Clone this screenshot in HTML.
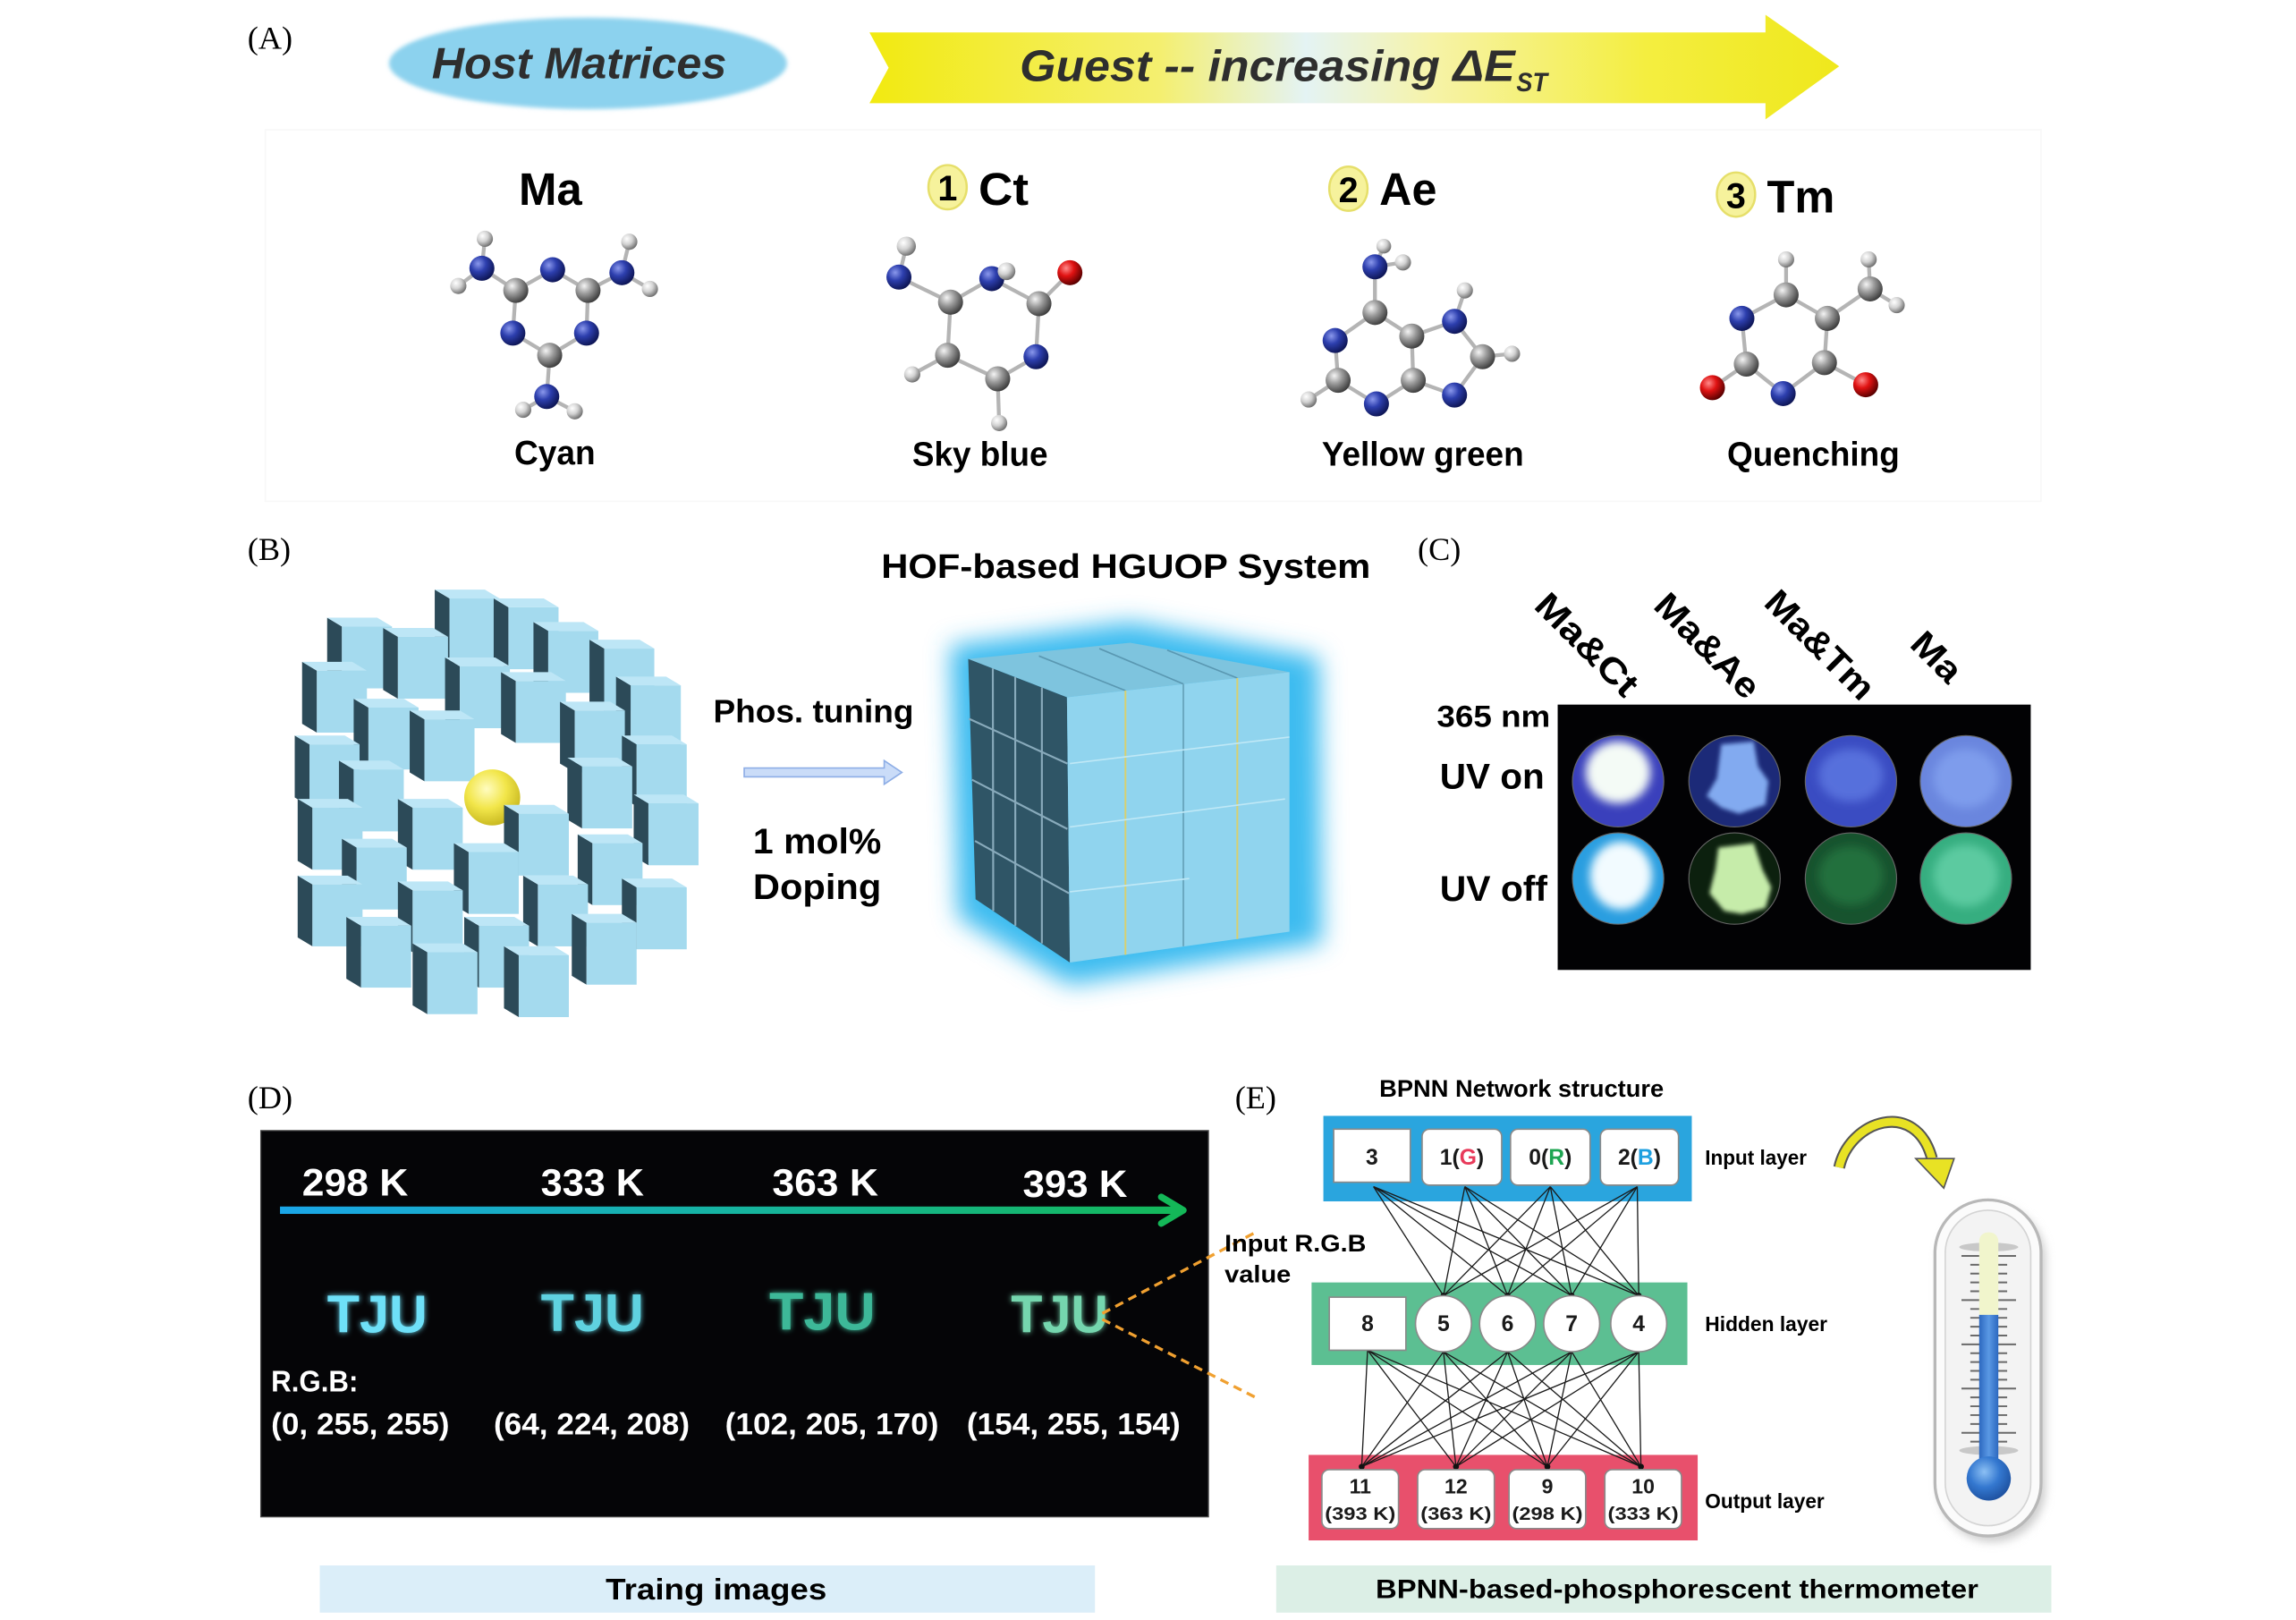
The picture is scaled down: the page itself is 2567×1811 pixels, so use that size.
<!DOCTYPE html>
<html><head><meta charset="utf-8"><style>
html,body{margin:0;padding:0;background:#fff;}
svg{display:block;}
text{font-family:"Liberation Sans",Arial,sans-serif;font-weight:bold;}
.ser{font-family:"Liberation Serif","Times New Roman",serif;font-weight:normal;}
</style></head><body>
<svg width="2567" height="1811" viewBox="0 0 1558 1099" preserveAspectRatio="none" xmlns="http://www.w3.org/2000/svg">
<defs>
<linearGradient id="yarrow" x1="0" y1="0" x2="1" y2="0">
<stop offset="0" stop-color="#f2ea10"/><stop offset="0.3" stop-color="#f4ef70"/><stop offset="0.45" stop-color="#e4f3f4"/><stop offset="0.58" stop-color="#f6f3a8"/><stop offset="0.8" stop-color="#f4ee40"/><stop offset="1" stop-color="#efe81c"/>
</linearGradient>
<radialGradient id="gN" cx="35%" cy="32%" r="70%"><stop offset="0" stop-color="#8a98ec"/><stop offset="0.45" stop-color="#2d3fae"/><stop offset="1" stop-color="#0e1656"/></radialGradient>
<radialGradient id="gC" cx="35%" cy="32%" r="70%"><stop offset="0" stop-color="#f4f4f4"/><stop offset="0.45" stop-color="#9c9c9c"/><stop offset="1" stop-color="#3e3e3e"/></radialGradient>
<radialGradient id="gH" cx="35%" cy="32%" r="70%"><stop offset="0" stop-color="#ffffff"/><stop offset="0.5" stop-color="#d2d2d2"/><stop offset="1" stop-color="#707070"/></radialGradient>
<radialGradient id="gO" cx="35%" cy="32%" r="70%"><stop offset="0" stop-color="#ff8a8a"/><stop offset="0.45" stop-color="#e01212"/><stop offset="1" stop-color="#5a0000"/></radialGradient>
<radialGradient id="gY" cx="40%" cy="35%" r="70%"><stop offset="0" stop-color="#fffcc0"/><stop offset="0.5" stop-color="#f2e64a"/><stop offset="1" stop-color="#c4b41c"/></radialGradient>
<linearGradient id="tarrow" gradientUnits="userSpaceOnUse" x1="190" y1="0" x2="805" y2="0"><stop offset="0" stop-color="#1aa6e8"/><stop offset="0.5" stop-color="#16b4a0"/><stop offset="1" stop-color="#14b858"/></linearGradient>
<radialGradient id="bulb" cx="40%" cy="35%" r="70%"><stop offset="0" stop-color="#8cc0f4"/><stop offset="0.5" stop-color="#3478d0"/><stop offset="1" stop-color="#1c4e9c"/></radialGradient>
<linearGradient id="tube" x1="0" y1="0" x2="1" y2="0"><stop offset="0" stop-color="#2c68c0"/><stop offset="0.5" stop-color="#5a98e4"/><stop offset="1" stop-color="#2c68c0"/></linearGradient>
<filter id="b1" x="-20%" y="-20%" width="140%" height="140%"><feGaussianBlur stdDeviation="1.5"/></filter>
<filter id="b2" x="-30%" y="-30%" width="160%" height="160%"><feGaussianBlur stdDeviation="3"/></filter>
<filter id="b8" x="-30%" y="-30%" width="160%" height="160%"><feGaussianBlur stdDeviation="8"/></filter>
<filter id="glow" x="-30%" y="-30%" width="160%" height="160%"><feGaussianBlur stdDeviation="2" result="b"/><feMerge><feMergeNode in="b"/><feMergeNode in="SourceGraphic"/></feMerge></filter>
<g id="blk"><polygon points="-10,-6 0,0 0,42 -10,36" fill="#2c4a58"/><polygon points="-10,-6 24,-6 34,0 0,0" fill="#bde6f6"/><rect x="0" y="0" width="34" height="42" fill="#a4daee"/></g>
</defs>

<!-- ===== Panel A ===== -->
<text class="ser" x="168" y="33" font-size="22">(A)</text>
<ellipse cx="399" cy="43" rx="135" ry="31" fill="#8cd2ee" filter="url(#b1)"/>
<text x="293" y="53" font-size="30" font-style="italic" fill="#2e2e2e" textLength="200" lengthAdjust="spacingAndGlyphs">Host Matrices</text>
<polygon points="590,22 1198,22 1198,10 1248,45 1198,81 1198,70 590,70 603,46" fill="url(#yarrow)"/>
<text x="692" y="55" font-size="30" font-style="italic" fill="#2e2e2e" textLength="336" lengthAdjust="spacingAndGlyphs">Guest -- increasing ΔE</text>
<text x="1029" y="62" font-size="18" font-style="italic" fill="#2e2e2e" textLength="21" lengthAdjust="spacingAndGlyphs">ST</text>
<rect x="180" y="88" width="1205" height="252" fill="none" stroke="#f8f8f8" stroke-width="1"/>

<!-- headings -->
<text x="352" y="139" font-size="31" textLength="43" lengthAdjust="spacingAndGlyphs">Ma</text>
<ellipse cx="643" cy="127" rx="13" ry="15" fill="#f6f29c" stroke="#e6df6a" stroke-width="1.5"/>
<text x="643" y="136" font-size="24" text-anchor="middle">1</text>
<text x="664" y="139" font-size="31" textLength="34" lengthAdjust="spacingAndGlyphs">Ct</text>
<ellipse cx="915" cy="128" rx="13" ry="15" fill="#f6f29c" stroke="#e6df6a" stroke-width="1.5"/>
<text x="915" y="137" font-size="24" text-anchor="middle">2</text>
<text x="936" y="139" font-size="31" textLength="39" lengthAdjust="spacingAndGlyphs">Ae</text>
<ellipse cx="1178" cy="132" rx="13" ry="15" fill="#f6f29c" stroke="#e6df6a" stroke-width="1.5"/>
<text x="1178" y="141" font-size="24" text-anchor="middle">3</text>
<text x="1199" y="144" font-size="31" textLength="46" lengthAdjust="spacingAndGlyphs">Tm</text>

<text x="349" y="315" font-size="23" textLength="55" lengthAdjust="spacingAndGlyphs">Cyan</text>
<text x="619" y="316" font-size="23" textLength="92" lengthAdjust="spacingAndGlyphs">Sky blue</text>
<text x="897" y="316" font-size="23" textLength="137" lengthAdjust="spacingAndGlyphs">Yellow green</text>
<text x="1172" y="316" font-size="23" textLength="117" lengthAdjust="spacingAndGlyphs">Quenching</text>

<!-- molecule bonds -->
<g stroke="#b4b4b4" stroke-width="2.6" fill="none" stroke-linecap="round">
<path d="M350,197 L375,183 L399,197 L398,226 L373,241 L348,226 Z M350,197 L327,182 M327,182 L329,162 M327,182 L311,194 M399,197 L422,185 M422,185 L427,164 M422,185 L441,196 M373,241 L371,269 M371,269 L355,278 M371,269 L390,279"/>
<path d="M610,188 L615,167 M610,188 L645,205 L673,189 L705,206 L726,185 M705,206 L703,242 L677,257 L643,241 L645,205 M677,257 L678,287 M643,241 L619,254"/>
<path d="M933,181 L939,167 M933,181 L952,178 M933,181 L933,212 L906,231 L908,258 L934,274 L959,258 L958,228 L933,212 M908,258 L888,271 M958,228 L987,218 L1006,242 L987,268 L959,258 M987,218 L994,197 M1006,242 L1026,240"/>
<path d="M1212,176 L1212,200 L1182,216 L1185,247 L1210,267 L1238,246 L1240,216 L1212,200 M1240,216 L1269,196 L1268,176 M1269,196 L1287,207 M1185,247 L1162,263 M1238,246 L1266,261"/>
</g>
<g>
<circle cx="329" cy="162" r="5.5" fill="url(#gH)"/><circle cx="311" cy="194" r="5.5" fill="url(#gH)"/>
<circle cx="427" cy="164" r="5.5" fill="url(#gH)"/><circle cx="441" cy="196" r="5.5" fill="url(#gH)"/>
<circle cx="355" cy="278" r="5.5" fill="url(#gH)"/><circle cx="390" cy="279" r="5.5" fill="url(#gH)"/>
<circle cx="327" cy="182" r="8.5" fill="url(#gN)"/><circle cx="422" cy="185" r="8.5" fill="url(#gN)"/><circle cx="371" cy="269" r="8.5" fill="url(#gN)"/>
<circle cx="375" cy="183" r="8.5" fill="url(#gN)"/><circle cx="398" cy="226" r="8.5" fill="url(#gN)"/><circle cx="348" cy="226" r="8.5" fill="url(#gN)"/>
<circle cx="350" cy="197" r="8.5" fill="url(#gC)"/><circle cx="399" cy="197" r="8.5" fill="url(#gC)"/><circle cx="373" cy="241" r="8.5" fill="url(#gC)"/>
<circle cx="615" cy="167" r="6.5" fill="url(#gH)"/><circle cx="678" cy="287" r="5.5" fill="url(#gH)"/><circle cx="619" cy="254" r="5.5" fill="url(#gH)"/>
<circle cx="610" cy="188" r="8.5" fill="url(#gN)"/><circle cx="645" cy="205" r="8.5" fill="url(#gC)"/>
<circle cx="673" cy="189" r="8.5" fill="url(#gN)"/><circle cx="683" cy="184" r="6" fill="url(#gH)"/>
<circle cx="705" cy="206" r="8.5" fill="url(#gC)"/><circle cx="726" cy="185" r="8.5" fill="url(#gO)"/>
<circle cx="703" cy="242" r="8.5" fill="url(#gN)"/><circle cx="677" cy="257" r="8.5" fill="url(#gC)"/><circle cx="643" cy="241" r="8.5" fill="url(#gC)"/>
<circle cx="939" cy="167" r="5" fill="url(#gH)"/><circle cx="952" cy="178" r="5.5" fill="url(#gH)"/>
<circle cx="888" cy="271" r="5.5" fill="url(#gH)"/><circle cx="994" cy="197" r="5.5" fill="url(#gH)"/><circle cx="1026" cy="240" r="5.5" fill="url(#gH)"/>
<circle cx="933" cy="181" r="8.5" fill="url(#gN)"/><circle cx="933" cy="212" r="8.5" fill="url(#gC)"/>
<circle cx="906" cy="231" r="8.5" fill="url(#gN)"/><circle cx="908" cy="258" r="8.5" fill="url(#gC)"/>
<circle cx="934" cy="274" r="8.5" fill="url(#gN)"/><circle cx="959" cy="258" r="8.5" fill="url(#gC)"/>
<circle cx="958" cy="228" r="8.5" fill="url(#gC)"/><circle cx="987" cy="218" r="8.5" fill="url(#gN)"/>
<circle cx="1006" cy="242" r="8.5" fill="url(#gC)"/><circle cx="987" cy="268" r="8.5" fill="url(#gN)"/>
<circle cx="1212" cy="176" r="5.5" fill="url(#gH)"/><circle cx="1268" cy="176" r="5.5" fill="url(#gH)"/><circle cx="1287" cy="207" r="5.5" fill="url(#gH)"/>
<circle cx="1269" cy="196" r="8.5" fill="url(#gC)"/>
<circle cx="1212" cy="200" r="8.5" fill="url(#gC)"/><circle cx="1182" cy="216" r="8.5" fill="url(#gN)"/>
<circle cx="1240" cy="216" r="8.5" fill="url(#gC)"/><circle cx="1185" cy="247" r="8.5" fill="url(#gC)"/>
<circle cx="1162" cy="263" r="8.5" fill="url(#gO)"/><circle cx="1210" cy="267" r="8.5" fill="url(#gN)"/>
<circle cx="1238" cy="246" r="8.5" fill="url(#gC)"/><circle cx="1266" cy="261" r="8.5" fill="url(#gO)"/>
</g>

<!-- ===== Panel B ===== -->
<text class="ser" x="168" y="380" font-size="22">(B)</text>
<text x="598" y="392" font-size="23" textLength="332" lengthAdjust="spacingAndGlyphs">HOF-based HGUOP System</text>
<g>
<use href="#blk" x="305" y="406"/>
<use href="#blk" x="345" y="412"/>
<use href="#blk" x="232" y="425"/>
<use href="#blk" x="270" y="432"/>
<use href="#blk" x="372" y="428"/>
<use href="#blk" x="410" y="440"/>
<use href="#blk" x="215" y="455"/>
<use href="#blk" x="312" y="452"/>
<use href="#blk" x="350" y="462"/>
<use href="#blk" x="428" y="465"/>
<use href="#blk" x="250" y="480"/>
<use href="#blk" x="288" y="488"/>
<use href="#blk" x="390" y="482"/>
<use href="#blk" x="210" y="505"/>
<use href="#blk" x="432" y="505"/>
<use href="#blk" x="240" y="522"/>
<use href="#blk" x="395" y="520"/>
<circle cx="334" cy="541" r="19" fill="url(#gY)"/>
<use href="#blk" x="212" y="548"/>
<use href="#blk" x="280" y="548"/>
<use href="#blk" x="352" y="552"/>
<use href="#blk" x="440" y="545"/>
<use href="#blk" x="242" y="575"/>
<use href="#blk" x="318" y="578"/>
<use href="#blk" x="402" y="572"/>
<use href="#blk" x="212" y="600"/>
<use href="#blk" x="280" y="604"/>
<use href="#blk" x="365" y="600"/>
<use href="#blk" x="432" y="602"/>
<use href="#blk" x="245" y="628"/>
<use href="#blk" x="325" y="628"/>
<use href="#blk" x="398" y="626"/>
<use href="#blk" x="290" y="646"/>
<use href="#blk" x="352" y="648"/>
</g>
<text x="484" y="490" font-size="22" textLength="136" lengthAdjust="spacingAndGlyphs">Phos. tuning</text>
<polygon points="505,521 600,521 600,516 612,524 600,532 600,527 505,527" fill="#cadcf8" stroke="#8eaee6" stroke-width="1"/>
<text x="511" y="579" font-size="24" textLength="87" lengthAdjust="spacingAndGlyphs">1 mol%</text>
<text x="511" y="610" font-size="24" textLength="87" lengthAdjust="spacingAndGlyphs">Doping</text>
<polygon points="645,438 767,422 895,446 897,640 726,668 650,622" fill="#3cbcf0" filter="url(#b8)"/>
<polygon points="657,447 767,436 875,456 724,473" fill="#7ec4de"/>
<polygon points="657,447 724,473 726,653 662,610" fill="#2f5566"/>
<polygon points="724,473 875,456 875,632 726,653" fill="#90d4ee"/>
<g stroke="#5a98b2" stroke-width="1"><path d="M763.7,468.5 L705,445 M803,464 L746,440 M839.6,460 L792,441"/></g>
<g stroke="#88aabb" stroke-width="1.3"><path d="M673.7,453.5 L674,618 M688.9,459.4 L689,628 M707,466.4 L707,640 M657.5,487.6 L724.3,518 M659.6,529 L724.3,562.4 M661.6,570.5 L725.3,606"/></g>
<g stroke-width="1.2"><path d="M763.7,468.5 L763.7,647.7" stroke="#d8d070"/><path d="M803,464 L803,642" stroke="#6aa8c0"/><path d="M839.6,460 L839.6,637" stroke="#d8d070"/></g>
<g stroke="#bfe8f6" stroke-width="1"><path d="M726,518 L875,500 M726,561 L872,542 M726,605 L807,596"/></g>

<!-- ===== Panel C ===== -->
<text class="ser" x="962" y="380" font-size="22">(C)</text>
<text font-size="24" transform="translate(1040,412) rotate(45)" textLength="88" lengthAdjust="spacingAndGlyphs">Ma&amp;Ct</text>
<text font-size="24" transform="translate(1121,412) rotate(45)" textLength="90" lengthAdjust="spacingAndGlyphs">Ma&amp;Ae</text>
<text font-size="24" transform="translate(1196,410) rotate(45)" textLength="94" lengthAdjust="spacingAndGlyphs">Ma&amp;Tm</text>
<text font-size="24" transform="translate(1295,438) rotate(45)" textLength="38" lengthAdjust="spacingAndGlyphs">Ma</text>
<text x="975" y="493" font-size="21" textLength="77" lengthAdjust="spacingAndGlyphs">365 nm</text>
<text x="977" y="535" font-size="24" textLength="71" lengthAdjust="spacingAndGlyphs">UV on</text>
<text x="977" y="611" font-size="24" textLength="73" lengthAdjust="spacingAndGlyphs">UV off</text>
<rect x="1057" y="478" width="321" height="180" fill="#020204"/>
<g stroke="#666" stroke-width="0.7">
<circle cx="1098" cy="530" r="31" fill="#3a40bc"/>
<circle cx="1177" cy="530" r="31" fill="#1c2a78"/>
<circle cx="1256" cy="530" r="31" fill="#3a4cc2"/>
<circle cx="1334" cy="530" r="31" fill="#6a86de"/>
<circle cx="1098" cy="596" r="31" fill="#2a9ee0"/>
<circle cx="1177" cy="596" r="31" fill="#0c200e"/>
<circle cx="1256" cy="596" r="31" fill="#17532e"/>
<circle cx="1334" cy="596" r="31" fill="#36ae80"/>
</g>
<ellipse cx="1098" cy="524" rx="22" ry="21" fill="#f4fbf6" filter="url(#b2)"/>
<path d="M1168,505 L1190,503 L1193,520 L1200,530 L1198,546 L1180,552 L1168,548 L1158,540 L1165,528 Z" fill="#82aaf0" filter="url(#b1)"/>
<ellipse cx="1256" cy="526" rx="22" ry="18" fill="#5670dc" filter="url(#b2)"/>
<ellipse cx="1334" cy="528" rx="22" ry="20" fill="#7e9cec" filter="url(#b2)"/>
<ellipse cx="1100" cy="594" rx="21" ry="23" fill="#f2fbff" filter="url(#b2)"/>
<path d="M1166,575 L1190,572 L1196,590 L1202,602 L1198,616 L1182,620 L1170,618 L1160,606 L1164,590 Z" fill="#c6ecaa" filter="url(#b1)"/>
<ellipse cx="1256" cy="594" rx="22" ry="20" fill="#23703e" filter="url(#b2)"/>
<ellipse cx="1334" cy="594" rx="22" ry="21" fill="#5ccaa0" filter="url(#b2)"/>

<!-- ===== Panel D ===== -->
<text class="ser" x="168" y="752" font-size="22">(D)</text>
<rect x="177" y="767" width="643" height="262" fill="#050507" stroke="#444" stroke-width="0.8"/>
<g fill="#fff">
<text x="205" y="811" font-size="26" textLength="72" lengthAdjust="spacingAndGlyphs">298 K</text>
<text x="367" y="811" font-size="26" textLength="70" lengthAdjust="spacingAndGlyphs">333 K</text>
<text x="524" y="811" font-size="26" textLength="72" lengthAdjust="spacingAndGlyphs">363 K</text>
<text x="694" y="812" font-size="26" textLength="71" lengthAdjust="spacingAndGlyphs">393 K</text>
</g>
<rect x="190" y="818.5" width="612" height="5" fill="url(#tarrow)"/>
<path d="M788,812 L803,821 L788,830" fill="none" stroke="#14b858" stroke-width="4.5" stroke-linecap="round" stroke-linejoin="round"/>
<g filter="url(#glow)">
<text x="222" y="904" font-size="36" fill="#6ee0f8" textLength="68" lengthAdjust="spacingAndGlyphs">TJU</text>
<text x="367" y="903" font-size="36" fill="#5ed2e0" textLength="70" lengthAdjust="spacingAndGlyphs">TJU</text>
<text x="522" y="902" font-size="36" fill="#3cb898" textLength="72" lengthAdjust="spacingAndGlyphs">TJU</text>
<text x="686" y="904" font-size="36" fill="#74d6ae" textLength="66" lengthAdjust="spacingAndGlyphs">TJU</text>
</g>
<g fill="#fff">
<text x="184" y="944" font-size="20" textLength="59" lengthAdjust="spacingAndGlyphs">R.G.B:</text>
<text x="184" y="973" font-size="21" textLength="121" lengthAdjust="spacingAndGlyphs">(0, 255, 255)</text>
<text x="335" y="973" font-size="21" textLength="133" lengthAdjust="spacingAndGlyphs">(64, 224, 208)</text>
<text x="492" y="973" font-size="21" textLength="145" lengthAdjust="spacingAndGlyphs">(102, 205, 170)</text>
<text x="656" y="973" font-size="21" textLength="145" lengthAdjust="spacingAndGlyphs">(154, 255, 154)</text>
</g>
<path d="M748,891 L852,836 M748,895 L852,948" stroke="#f0a030" stroke-width="2" stroke-dasharray="6,4" fill="none"/>
<text x="831" y="849" font-size="16" textLength="96" lengthAdjust="spacingAndGlyphs">Input R.G.B</text>
<text x="831" y="870" font-size="16" textLength="45" lengthAdjust="spacingAndGlyphs">value</text>

<rect x="217" y="1062" width="526" height="32" fill="#dbeef9"/>
<text x="486" y="1085" font-size="20" text-anchor="middle" textLength="150" lengthAdjust="spacingAndGlyphs">Traing images</text>
<rect x="866" y="1062" width="526" height="32" fill="#dcefe6"/>
<text x="1138" y="1084" font-size="18" text-anchor="middle" textLength="409" lengthAdjust="spacingAndGlyphs">BPNN-based-phosphorescent thermometer</text>

<!-- ===== Panel E ===== -->
<text class="ser" x="838" y="752" font-size="22">(E)</text>
<text x="936" y="744" font-size="16" textLength="193" lengthAdjust="spacingAndGlyphs">BPNN Network structure</text>
<rect x="898" y="757" width="250" height="58" fill="#2aa5de"/>
<rect x="890" y="870" width="255" height="56" fill="#5cbf92"/>
<rect x="888" y="987" width="264" height="58" fill="#e8506c"/>
<g stroke="#1a1a1a" stroke-width="0.8" fill="none">
<path d="M932,805 L979.5,879 M932,805 L1023,879 M932,805 L1066.5,879 M932,805 L1112,879
M994,805 L979.5,879 M994,805 L1023,879 M994,805 L1066.5,879 M994,805 L1112,879
M1052,805 L979.5,879 M1052,805 L1023,879 M1052,805 L1066.5,879 M1052,805 L1112,879
M1111,805 L979.5,879 M1111,805 L1023,879 M1111,805 L1066.5,879 M1111,805 L1112,879"/>
<path d="M928,916 L924,995 M928,916 L988,995 M928,916 L1050,995 M928,916 L1113.5,995
M979.5,917 L924,995 M979.5,917 L988,995 M979.5,917 L1050,995 M979.5,917 L1113.5,995
M1023,917 L924,995 M1023,917 L988,995 M1023,917 L1050,995 M1023,917 L1113.5,995
M1066.5,917 L924,995 M1066.5,917 L988,995 M1066.5,917 L1050,995 M1066.5,917 L1113.5,995
M1112,917 L924,995 M1112,917 L988,995 M1112,917 L1050,995 M1112,917 L1113.5,995"/>
</g>
<g fill="#111"><circle cx="979.5" cy="879" r="2"/><circle cx="1023" cy="879" r="2"/><circle cx="1066.5" cy="879" r="2"/><circle cx="1112" cy="879" r="2"/>
<circle cx="924" cy="995" r="2"/><circle cx="988" cy="995" r="2"/><circle cx="1050" cy="995" r="2"/><circle cx="1113.5" cy="995" r="2"/></g>
<g fill="#fff" stroke="#8a8a8a" stroke-width="1">
<rect x="905" y="766" width="52" height="36"/>
<rect x="965" y="766" width="54" height="38" rx="5"/>
<rect x="1025" y="766" width="54" height="38" rx="5"/>
<rect x="1086" y="766" width="53" height="38" rx="5"/>
<rect x="902" y="880" width="52" height="36"/>
<circle cx="979.5" cy="898" r="19"/><circle cx="1023" cy="898" r="19"/><circle cx="1066.5" cy="898" r="19"/><circle cx="1112" cy="898" r="19"/>
<rect x="897" y="997" width="52" height="40" rx="5"/>
<rect x="962" y="997" width="52" height="40" rx="5"/>
<rect x="1024" y="997" width="52" height="40" rx="5"/>
<rect x="1089" y="997" width="52" height="40" rx="5"/>
</g>
<g font-size="15" text-anchor="middle" fill="#1a1a1a">
<text x="931" y="790">3</text>
<text x="992" y="790">1(<tspan fill="#e83a5a">G</tspan>)</text>
<text x="1052" y="790">0(<tspan fill="#1ea552">R</tspan>)</text>
<text x="1112.5" y="790">2(<tspan fill="#1ea0e0">B</tspan>)</text>
<text x="928" y="903">8</text>
<text x="979.5" y="903">5</text>
<text x="1023" y="903">6</text>
<text x="1066.5" y="903">7</text>
<text x="1112" y="903">4</text>
<text x="923" y="1013" font-size="14">11</text>
<text x="988" y="1013" font-size="14">12</text>
<text x="1050" y="1013" font-size="14">9</text>
<text x="1115" y="1013" font-size="14">10</text>
<text x="923" y="1031" font-size="12.5" font-weight="normal" textLength="48" lengthAdjust="spacingAndGlyphs">(393 K)</text>
<text x="988" y="1031" font-size="12.5" font-weight="normal" textLength="48" lengthAdjust="spacingAndGlyphs">(363 K)</text>
<text x="1050" y="1031" font-size="12.5" font-weight="normal" textLength="48" lengthAdjust="spacingAndGlyphs">(298 K)</text>
<text x="1115" y="1031" font-size="12.5" font-weight="normal" textLength="48" lengthAdjust="spacingAndGlyphs">(333 K)</text>
</g>
<text x="1157" y="790" font-size="14" textLength="69" lengthAdjust="spacingAndGlyphs">Input layer</text>
<text x="1157" y="903" font-size="14" textLength="83" lengthAdjust="spacingAndGlyphs">Hidden layer</text>
<text x="1157" y="1023" font-size="14" textLength="81" lengthAdjust="spacingAndGlyphs">Output layer</text>
<path d="M1248,792 C1255,760 1300,745 1311,786" fill="none" stroke="#555" stroke-width="8"/>
<path d="M1248,792 C1255,760 1300,745 1311,786" fill="none" stroke="#e8e224" stroke-width="5.5"/>
<polygon points="1300,786 1326,786 1319,806" fill="#e8e224" stroke="#555" stroke-width="1"/>
<rect x="1316" y="818" width="72" height="228" rx="36" fill="#ccc" filter="url(#b2)"/>
<rect x="1313" y="814" width="72" height="228" rx="36" fill="#fbfbfb" stroke="#b8b8b8" stroke-width="2"/>
<rect x="1320" y="821" width="58" height="214" rx="29" fill="#f3f3f3" stroke="#d4d4d4" stroke-width="1"/>
<ellipse cx="1349.5" cy="846" rx="20" ry="3" fill="#c8c8c8"/>
<ellipse cx="1349.5" cy="984" rx="20" ry="3" fill="#c8c8c8"/>
<path d="M1331,852H1368 M1337,858H1362 M1337,864H1362 M1337,870H1362 M1337,876H1362 M1331,882H1368 M1337,888H1362 M1337,894H1362 M1337,900H1362 M1337,906H1362 M1331,912H1368 M1337,918H1362 M1337,924H1362 M1337,930H1362 M1337,936H1362 M1331,942H1368 M1337,948H1362 M1337,954H1362 M1337,960H1362 M1337,966H1362 M1331,972H1368 M1337,978H1362" stroke="#6a6a6a" stroke-width="1.2"/>
<rect x="1343" y="836" width="13" height="62" rx="6" fill="#f1f5cc"/>
<rect x="1343" y="892" width="13" height="102" fill="url(#tube)"/>
<circle cx="1349.5" cy="1003" r="15" fill="url(#bulb)"/>
</svg>
</body></html>
